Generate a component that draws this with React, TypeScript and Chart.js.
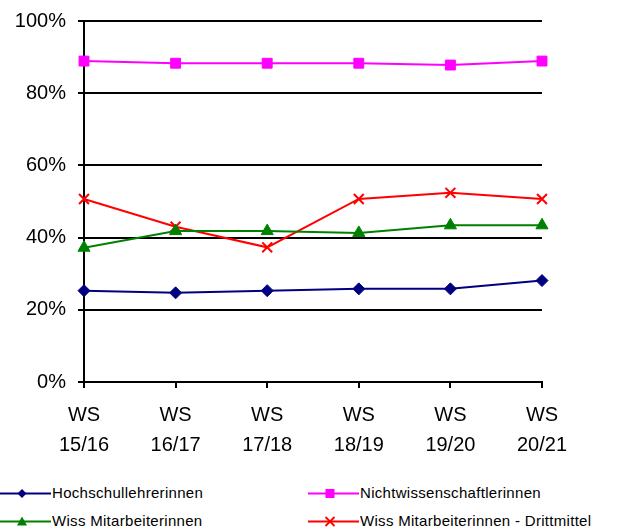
import React, { useEffect, useRef } from "react";
import { Chart, registerables } from "chart.js";

Chart.register(...registerables);

const categories: string[][] = [
  ["WS", "15/16"],
  ["WS", "16/17"],
  ["WS", "17/18"],
  ["WS", "18/19"],
  ["WS", "19/20"],
  ["WS", "20/21"],
];
const hochschullehrerinnen = [25.3, 24.7, 25.3, 25.8, 25.8, 28.1];
const nichtwissenschaftlerinnen = [88.9, 88.3, 88.3, 88.3, 87.8, 88.9];
const wissMitarbeiterinnen = [37.2, 41.8, 41.8, 41.3, 43.4, 43.4];
const wissDrittmittel = [50.7, 43.0, 37.3, 50.7, 52.4, 50.7];
const yTicks = [0, 20, 40, 60, 80, 100];

const seriesNames = [
  "Hochschullehrerinnen",
  "Nichtwissenschaftlerinnen",
  "Wiss Mitarbeiterinnen",
  "Wiss Mitarbeiterinnen - Drittmittel",
];
const seriesColors = ["#000080", "#FF00FF", "#008000", "#FF0000"];
const seriesStyles = ["rectRot", "rect", "triangle", "crossRot"];
const seriesRadius = [6, 7, 7, 7];

function LegendSymbol({ idx }: { idx: number }) {
  const c = seriesColors[idx];
  const m = 22;
  let marker: React.ReactNode = null;
  if (idx === 0) marker = <polygon points={`${m},2 ${m + 4.5},6.5 ${m},11 ${m - 4.5},6.5`} fill={c} />;
  if (idx === 1) marker = <rect x={m - 4.5} y={2} width={9} height={9} fill={c} />;
  if (idx === 2) marker = <polygon points={`${m},1.5 ${m + 5},10.5 ${m - 5},10.5`} fill={c} />;
  if (idx === 3)
    marker = (
      <g stroke={c} strokeWidth={1.8}>
        <line x1={m - 4.5} y1={2} x2={m + 4.5} y2={11} />
        <line x1={m + 4.5} y1={2} x2={m - 4.5} y2={11} />
      </g>
    );
  return (
    <svg width={51} height={13} style={{ display: "block" }}>
      <line x1={0} y1={6.5} x2={51} y2={6.5} stroke={c} strokeWidth={2} />
      {marker}
    </svg>
  );
}

export default function App() {
  const ref = useRef<HTMLCanvasElement>(null);
  useEffect(() => {
    if (!ref.current) return;
    const data = [hochschullehrerinnen, nichtwissenschaftlerinnen, wissMitarbeiterinnen, wissDrittmittel];
    const chart = new Chart(ref.current, {
      type: "line",
      data: {
        labels: categories,
        datasets: data.map((d, i) => ({
          label: seriesNames[i],
          data: d,
          borderColor: seriesColors[i],
          backgroundColor: seriesColors[i],
          borderWidth: 2,
          pointStyle: seriesStyles[i] as any,
          pointRadius: seriesRadius[i],
          pointBorderWidth: i === 3 ? 2 : 1,
          tension: 0,
        })),
      },
      options: {
        animation: false,
        responsive: false,
        layout: { padding: { top: 21, right: 82, left: 0, bottom: 0 } },
        plugins: { legend: { display: false }, tooltip: { enabled: false } },
        scales: {
          x: {
            offset: false,
            grid: { display: true, drawOnChartArea: false, drawTicks: true, tickLength: 6, color: "#000", lineWidth: 2 },
            border: { display: true, color: "#000", width: 2 },
            ticks: {
              color: "#000",
              font: { family: "Arial, 'Liberation Sans'", size: 20, lineHeight: 1.5 },
              padding: 12,
              maxRotation: 0,
              autoSkip: false,
            },
            afterFit: (s: any) => {
              s.height = 470 - 382;
              s.paddingLeft = 0;
              s.paddingRight = 0;
            },
          },
          y: {
            min: 0,
            max: 100,
            afterBuildTicks: (s: any) => {
              s.ticks = yTicks.map((v) => ({ value: v }));
            },
            grid: { color: "#000", lineWidth: 2, tickLength: 6, drawTicks: true },
            border: { display: true, color: "#000", width: 2 },
            ticks: {
              color: "#000",
              font: { family: "Arial, 'Liberation Sans'", size: 20 },
              padding: 12,
              callback: (v: any) => v + "%",
            },
            afterFit: (s: any) => {
              s.width = 84;
              s.paddingTop = 0;
              s.paddingBottom = 0;
            },
          },
        },
      },
    });
    return () => chart.destroy();
  }, []);

  const legendText: React.CSSProperties = {
    fontFamily: "Arial, 'Liberation Sans'",
    fontSize: 15,
    letterSpacing: 0.3,
    color: "#000",
    marginLeft: 1,
    whiteSpace: "nowrap",
    lineHeight: "16px",
  };
  const item = (idx: number, left: number, cy: number) => (
    <div style={{ position: "absolute", left, top: cy - 8, display: "flex", alignItems: "center", height: 16 }}>
      <LegendSymbol idx={idx} />
      <span style={legendText}>{seriesNames[idx]}</span>
    </div>
  );

  return (
    <div style={{ position: "fixed", left: 0, top: 0, width: 624, height: 531, background: "#fff" }}>
      <canvas ref={ref} width={624} height={470} style={{ position: "absolute", left: 0, top: 0 }} />
      {item(0, 0, 493)}
      {item(1, 308, 493)}
      {item(2, 0, 521)}
      {item(3, 308, 521)}
    </div>
  );
}
